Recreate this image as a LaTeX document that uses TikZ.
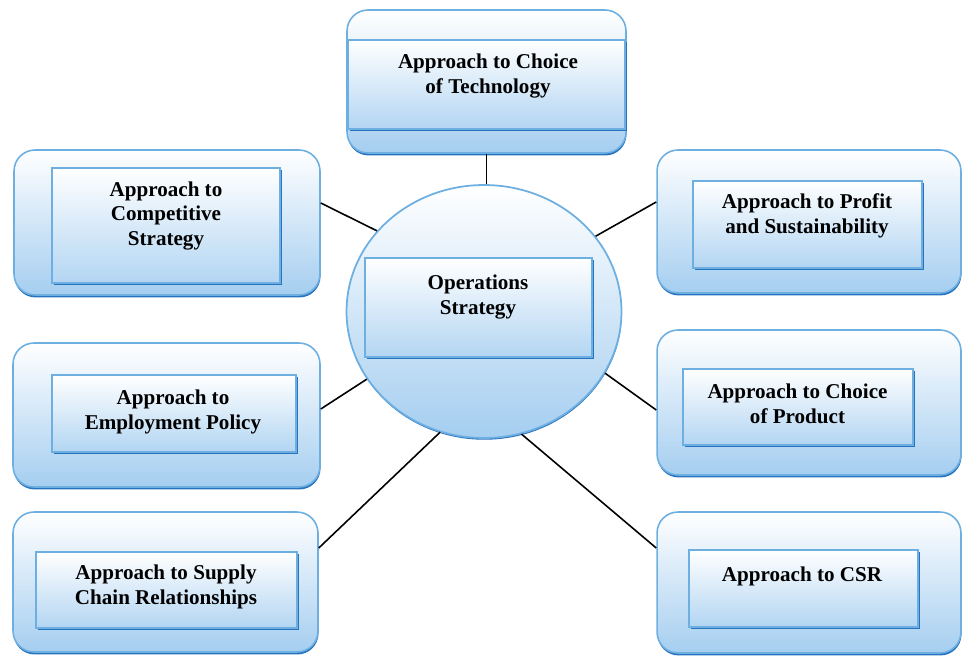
\documentclass[tikz,border=0pt]{standalone}
\usepackage{fontspec}
\setmainfont{Liberation Serif}
\usetikzlibrary{positioning, shapes.geometric, shadows}
\definecolor{boxline}{RGB}{110,175,225}
\definecolor{boxdark}{RGB}{40,115,190}
\definecolor{boxfill}{RGB}{165,206,240}
\tikzset{outer box/.style={rectangle,rounded corners=0.42cm,draw=boxline,line width=0.9pt,
    top color=white,bottom color=boxfill,
    drop shadow={fill=boxdark,opacity=1,shadow xshift=0.3pt,shadow yshift=-1.4pt}},
  inner box/.style={rectangle,draw=boxline,line width=0.7pt,
    top color=white,bottom color=boxfill!85,
    drop shadow={fill=boxdark,opacity=1,shadow xshift=1pt,shadow yshift=-1.4pt}},
  hub/.style={ellipse,draw=boxline,line width=1pt,top color=white,bottom color=boxfill,
    drop shadow={fill=boxdark,opacity=1,shadow xshift=0.2pt,shadow yshift=-1pt}},
  txt/.style={align=center,font=\fontsize{12}{14}\selectfont\bfseries},
  link/.style={draw=black,line width=0.9pt},}

\begin{document}
\begin{tikzpicture}[x=0.02cm, y=-0.02cm]
   \useasboundingbox (0,0) rectangle (962,655);
   % outer boxes
   \node[outer box, minimum width=5.58cm, minimum height=2.86cm] (tech) at (486.5,81.5) {};
   \node[outer box, minimum width=6.12cm, minimum height=2.9cm] (comp) at (167,222.5) {};
   \node[outer box, minimum width=6.14cm, minimum height=2.88cm] (empl) at (166.5,415) {};
   \node[outer box, minimum width=6.1cm, minimum height=2.8cm] (supply) at (165.5,582) {};
   \node[outer box, minimum width=6.08cm, minimum height=2.86cm] (profit) at (809,221.5) {};
   \node[outer box, minimum width=6.08cm, minimum height=2.9cm] (product) at (809,402.5) {};
   \node[outer box, minimum width=6.08cm, minimum height=2.82cm] (csr) at (809,582.5) {};
   \node[hub, minimum width=5.5cm, minimum height=5.06cm] (ops) at (484,311.5) {};
   % inner boxes
   \node[inner box, minimum width=5.54cm, minimum height=1.78cm] (tech in) at (486.5,84.5) {};
   \node[inner box, minimum width=4.56cm, minimum height=2.3cm] (comp in) at (166,225.5) {};
   \node[inner box, minimum width=4.88cm, minimum height=1.54cm] (empl in) at (174,413.5) {};
   \node[inner box, minimum width=5.22cm, minimum height=1.52cm] (supply in) at (166.5,590) {};
   \node[inner box, minimum width=4.58cm, minimum height=1.74cm] (profit in) at (807.5,224.5) {};
   \node[inner box, minimum width=4.6cm, minimum height=1.52cm] (product in) at (798,407) {};
   \node[inner box, minimum width=4.58cm, minimum height=1.54cm] (csr in) at (803.5,588.5) {};
   \node[inner box, minimum width=4.54cm, minimum height=1.98cm] (ops in) at (478.5,307.5) {};
   % labels
   \node[txt] (tech t) at (488,76) {Approach to Choice\\of Technology};
   \node[txt] (comp t) at (166,216) {Approach to\\Competitive\\Strategy};
   \node[txt] (empl t) at (173,412) {Approach to\\Employment Policy};
   \node[txt] (supply t) at (166,587) {Approach to Supply\\Chain Relationships};
   \node[txt] (profit t) at (807,216) {Approach to Profit\\and Sustainability};
   \node[txt] (product t) at (797.5,404) {Approach to Choice\\of Product};
   \node[txt] (csr t) at (802,576) {Approach to CSR};
   \node[txt] (ops t) at (478,297) {Operations\\Strategy};
   % connectors
   \path[link]
   (tech.south) edge (tech.south |- ops.north)
   (ops.143) edge ([yshift=0.39cm]comp.east)
   (ops.210) edge ([yshift=0.12cm]empl.east)
   (ops.250) edge ([yshift=0.68cm]supply.east)
   (ops.34) edge ([yshift=0.39cm]profit.west)
   (ops.333) edge ([yshift=-0.15cm]product.west)
   (ops.287) edge ([yshift=0.69cm]csr.west);
\end{tikzpicture}
\end{document}
